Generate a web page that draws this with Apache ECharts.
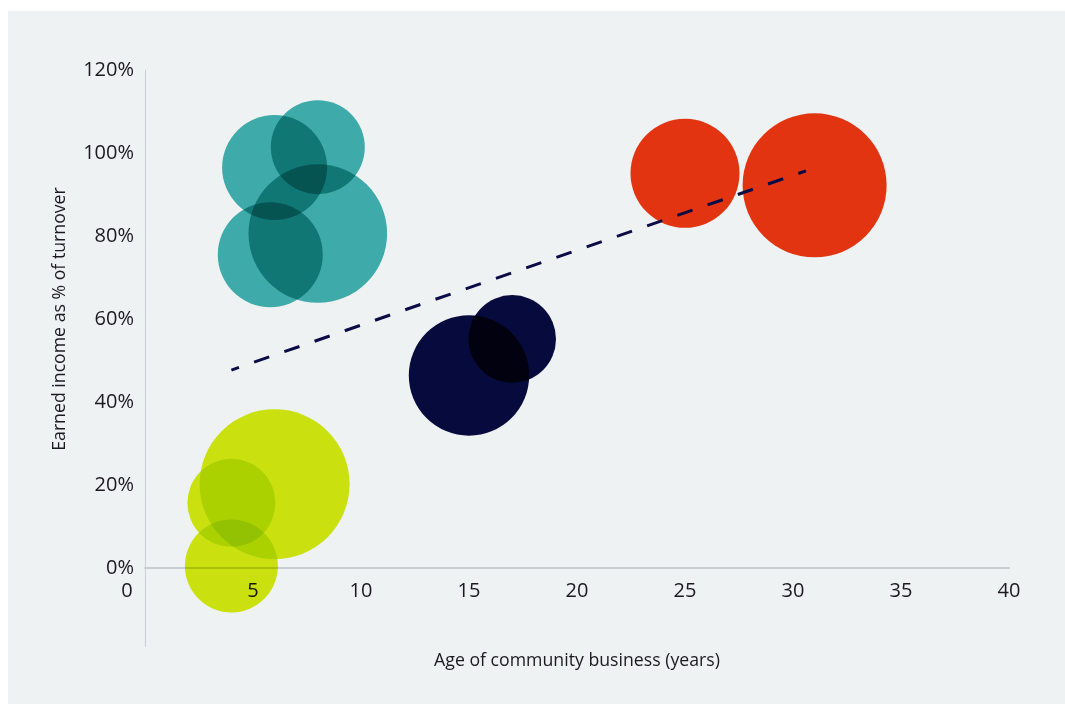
<!DOCTYPE html>
<html>
<head>
<meta charset="utf-8">
<script src="https://cdn.jsdelivr.net/npm/echarts@6/dist/echarts.min.js"></script>
<style>
  html, body { margin: 0; padding: 0; background: #ffffff; }
  #chart { position: absolute; left: 8px; top: 11px; width: 1057px; height: 693px; }
</style>
</head>
<body>
<div id="chart"></div>
<script>
// Age of community business (years), earned income (% of turnover), bubble value
const tealAge = [6, 8, 8, 5.8];
const tealEarned = [96.5, 101.4, 80.6, 75.5];
const tealBubble = [52.5, 47, 69.3, 52.5];

const limeAge = [6, 4, 4];
const limeEarned = [20.2, 15.7, 0.5];
const limeBubble = [75, 44, 46.5];

const navyAge = [15, 17];
const navyEarned = [46.4, 55.2];
const navyBubble = [60.2, 43.8];

const redAge = [25, 31];
const redEarned = [95.1, 92.2];
const redBubble = [54.5, 72];

const trendAge = [4, 30.6];
const trendEarned = [47.7, 95.7];

const xTicks = [0, 5, 10, 15, 20, 25, 30, 35, 40];
const yTicks = [0, 20, 40, 60, 80, 100, 120];

const xAxisTitle = 'Age of community business (years)';
const yAxisTitle = 'Earned income as % of turnover';

function zip3(a, b, c) { return a.map((v, i) => [v, b[i], c[i]]); }

const FONT = 'Open Sans';
const TEXT = '#1a1a1f';
const AXIS = '#c7cfd3';

function bubbleSeries(data, color) {
  return {
    type: 'scatter',
    data: data,
    symbolSize: d => d[2] * 2,
    blendMode: 'multiply',
    itemStyle: { color: color, opacity: 1 },
    emphasis: { disabled: true },
    silent: true,
    clip: false
  };
}

const chart = echarts.init(document.getElementById('chart'));
chart.setOption({
  backgroundColor: '#eef2f3',
  animation: false,
  grid: { left: 137, right: 56, top: 59, bottom: 136, outerBoundsMode: 'none', containLabel: false },
  xAxis: {
    type: 'value',
    min: xTicks[0],
    max: xTicks[xTicks.length - 1],
    interval: 5,
    name: xAxisTitle,
    nameLocation: 'middle',
    nameGap: 84,
    nameTextStyle: { fontFamily: FONT, fontSize: 17.7, color: TEXT },
    axisLine: { onZero: false, lineStyle: { color: AXIS, width: 2 } },
    axisTick: { show: false },
    splitLine: { show: false },
    axisLabel: {
      margin: 13,
      fontFamily: FONT, fontSize: 20, color: TEXT,
      formatter: v => v === 0 ? '{z|0}' : String(v),
      rich: { z: { fontFamily: FONT, fontSize: 20, color: TEXT, padding: [0, 36, 0, 0] } }
    }
  },
  yAxis: {
    type: 'value',
    min: yTicks[0],
    max: yTicks[yTicks.length - 1],
    interval: 20,
    name: yAxisTitle,
    nameLocation: 'middle',
    nameGap: 76,
    nameTextStyle: { fontFamily: FONT, fontSize: 17.7, color: TEXT },
    axisLine: { lineStyle: { color: AXIS, width: 1 } },
    axisTick: { show: false },
    splitLine: { show: false },
    axisLabel: {
      margin: 11,
      fontFamily: FONT, fontSize: 20, color: TEXT,
      formatter: v => v + '%'
    }
  },
  series: [
    bubbleSeries(zip3(tealAge, tealEarned, tealBubble), '#42b3b1'),
    bubbleSeries(zip3(limeAge, limeEarned, limeBubble), '#d9ed0f'),
    bubbleSeries(zip3(navyAge, navyEarned, navyBubble), '#060a3f'),
    bubbleSeries(zip3(redAge, redEarned, redBubble), '#f33610'),
    {
      type: 'line',
      data: trendAge.map((v, i) => [v, trendEarned[i]]),
      symbol: 'none',
      silent: true,
      lineStyle: { color: '#0b0b45', width: 3, type: [16, 16], dashOffset: 8 },
      z: 5
    }
  ]
});

// extend the y axis line below the x axis, as in the original
const origin = chart.convertToPixel({ xAxisIndex: 0, yAxisIndex: 0 }, [0, 0]);
chart.setOption({
  graphic: [{
    type: 'line',
    silent: true,
    z: 0,
    shape: { x1: origin[0] + 0.5, y1: origin[1], x2: origin[0] + 0.5, y2: origin[1] + 79 },
    style: { stroke: AXIS, lineWidth: 1 }
  }]
});
</script>
</body>
</html>
